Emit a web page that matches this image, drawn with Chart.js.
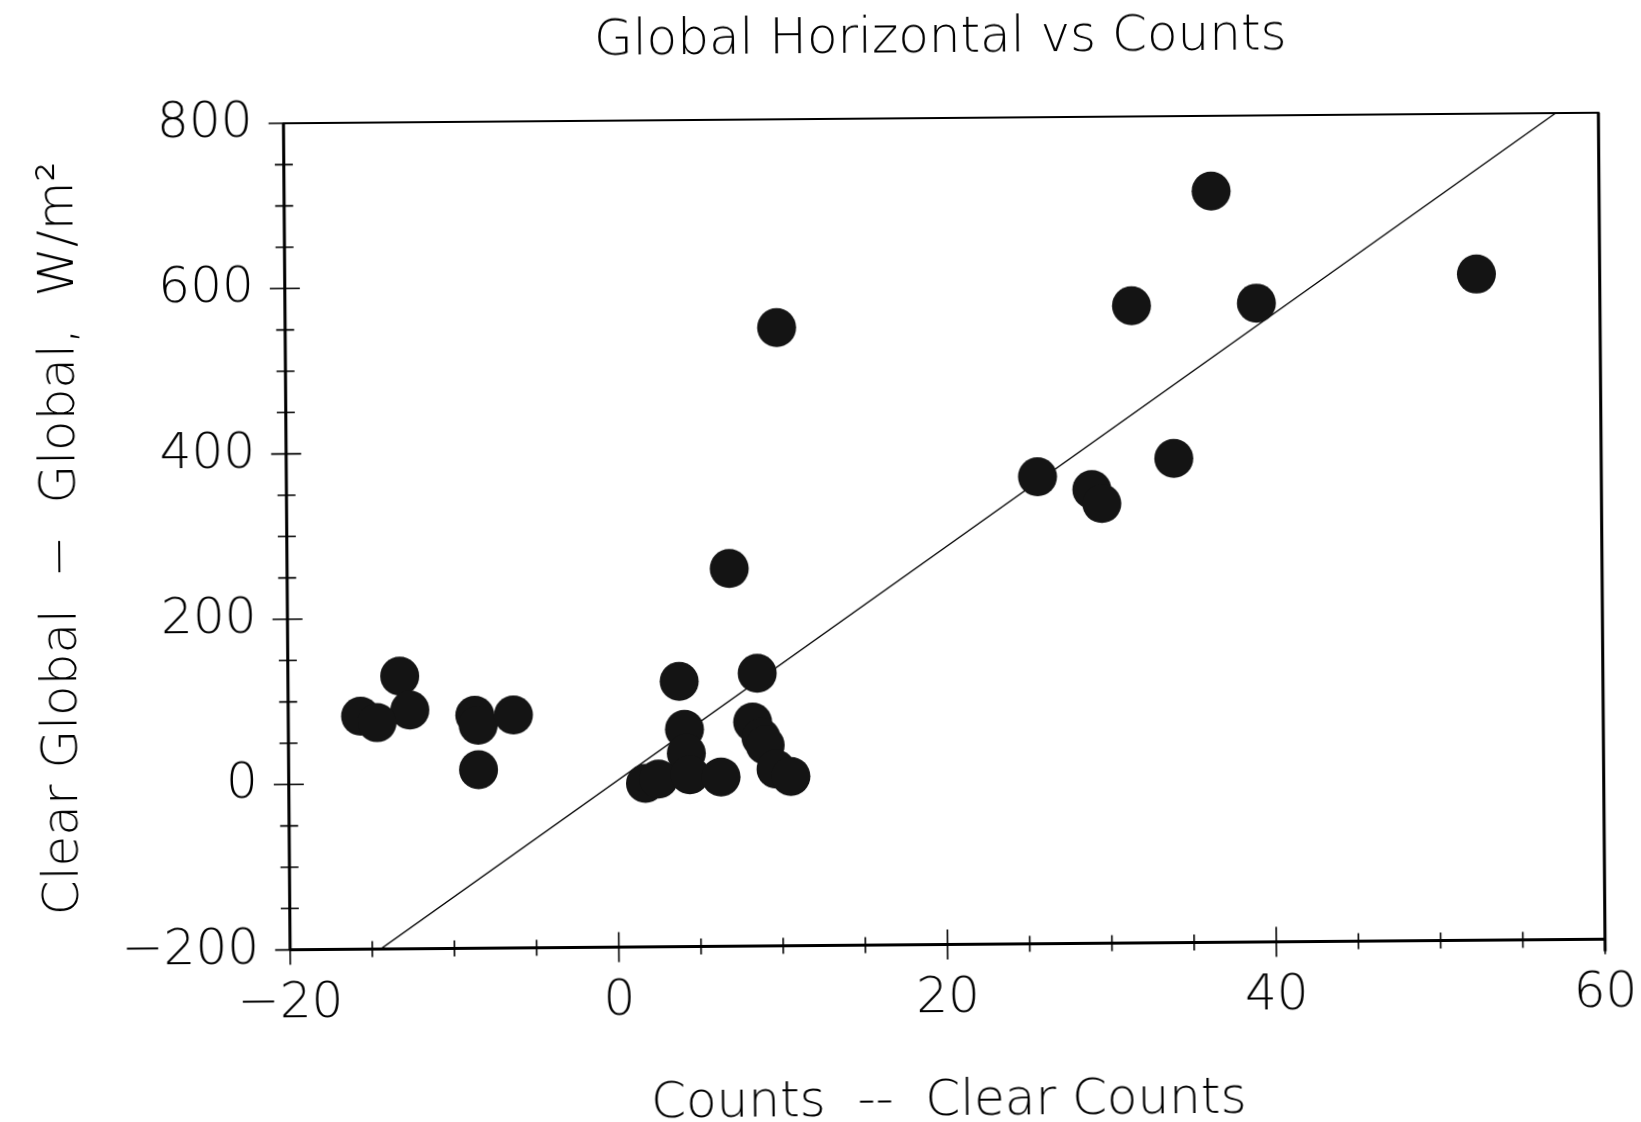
<!DOCTYPE html>
<html>
<head>
<meta charset="utf-8">
<title>Global Horizontal vs Counts</title>
<script src="https://cdn.jsdelivr.net/npm/chart.js@4/dist/chart.umd.min.js"></script>
<style>
  html, body { margin: 0; padding: 0; background: #fff; overflow: hidden; }
  #wrap { width: 1641px; height: 1122px; }
  /* the plotted sheet sits slightly askew on the page */
  #c { transform-origin: 944.25px 531.3px; transform: rotate(-0.46deg); }
</style>
</head>
<body>
<div id="wrap"><canvas id="c" width="1641" height="1122"></canvas></div>
<script>
// Observations: count difference vs. clear-sky irradiance difference
const countsDiff = [36.4, 52.5, 31.5, 39.1, 9.9, 34.0, 25.7, 29.0, 29.6, 6.9,
                    3.8, 8.55, -13.2, -12.6, -15.6, -14.6, -8.65, -8.45, -6.3, -8.45,
                    1.7, 2.5, 4.1, 4.2, 4.4, 6.3, 8.25, 8.75, 9.0, 9.65, 10.55];
const globalDiff = [709, 606, 571, 573, 548, 386, 365, 349, 332, 257,
                    121, 130, 130, 89, 82, 74, 82, 70, 82, 16,
                    -2, 3, 63, 34, 8, 5, 71, 52, 43, 14, 5];

// Fitted line end points
const fitX = [-14.5, 57.4];
const fitY = [-200, 800];

// Axis ranges and labelled ticks
const xRange = [-20, 60];
const yRange = [-200, 800];
const xLabelled = [-20, 0, 20, 40, 60];
const yLabelled = [-200, 0, 200, 400, 600, 800];

const FONT = '"DejaVu Sans", "Liberation Sans", sans-serif';
const fmt = v => (v < 0 ? '\u2212' + Math.abs(v) : String(v));

const points = countsDiff.map((x, i) => ({ x, y: globalDiff[i] }));
const fitLine = fitX.map((x, i) => ({ x, y: fitY[i] }));

// Boxed frame with ticks that cross the axis lines
const frameTicks = {
  id: 'frameTicks',
  afterDatasetsDraw(chart) {
    const { ctx, chartArea: a, scales: { x, y } } = chart;
    ctx.save();
    ctx.strokeStyle = '#000';
    ctx.lineWidth = 2;
    ctx.strokeRect(a.left, a.top, a.right - a.left, a.bottom - a.top);
    ctx.lineWidth = 3;
    ctx.beginPath();
    ctx.moveTo(a.left, a.top);
    ctx.lineTo(a.left, a.bottom);
    ctx.moveTo(a.left, a.bottom);
    ctx.lineTo(a.right, a.bottom);
    ctx.moveTo(a.right, a.top);
    ctx.lineTo(a.right, a.bottom + 12);
    ctx.stroke();
    ctx.lineWidth = 1.6;
    ctx.beginPath();
    x.ticks.forEach(t => {
      const px = x.getPixelForValue(t.value);
      const major = xLabelled.includes(t.value);
      const h = major ? 15 : 8;
      ctx.moveTo(px, a.bottom - h);
      ctx.lineTo(px, a.bottom + h);
    });
    y.ticks.forEach(t => {
      const py = y.getPixelForValue(t.value);
      const major = yLabelled.includes(t.value);
      const h = major ? 15 : 9;
      ctx.moveTo(a.left - h, py);
      ctx.lineTo(a.left + h, py);
    });
    ctx.stroke();
    ctx.restore();
  }
};

new Chart(document.getElementById('c'), {
  type: 'scatter',
  data: {
    datasets: [
      {
        label: 'Observations',
        data: points,
        order: 0,
        pointRadius: 19.5,
        pointHoverRadius: 19.5,
        backgroundColor: '#141414',
        borderColor: '#141414',
        borderWidth: 0
      },
      {
        type: 'line',
        label: 'Fit',
        data: fitLine,
        order: 1,
        borderColor: '#000',
        borderWidth: 1.3,
        pointRadius: 0,
        fill: false,
        tension: 0
      }
    ]
  },
  options: {
    responsive: false,
    animation: false,
    events: [],
    layout: { padding: 0 },
    plugins: {
      legend: { display: false },
      tooltip: { enabled: false },
      title: {
        display: true,
        fullSize: false,
        text: 'Global Horizontal vs Counts',
        color: '#000',
        font: { family: FONT, size: 50, weight: '200', lineHeight: 1.2 },
        padding: { top: 9.5, bottom: 48.5 }
      }
    },
    scales: {
      x: {
        type: 'linear',
        min: xRange[0],
        max: xRange[1],
        afterFit(s) { s.height = 177.4; s.paddingLeft = 0; s.paddingRight = 39.25; },
        grid: { display: false, drawTicks: false },
        border: { display: false },
        ticks: {
          stepSize: 5,
          autoSkip: false,
          maxRotation: 0,
          padding: 24,
          color: '#000',
          font: { family: FONT, size: 50, weight: '200' },
          callback: v => (xLabelled.includes(v) ? fmt(v) : '')
        },
        title: {
          display: true,
          text: 'Counts  --  Clear Counts',
          color: '#000',
          font: { family: FONT, size: 50, weight: '200', lineHeight: 0.78 },
          padding: { top: 0, bottom: 0 }
        }
      },
      y: {
        type: 'linear',
        min: yRange[0],
        max: yRange[1],
        afterFit(s) { s.width = 286.8; },
        grid: { display: false, drawTicks: false },
        border: { display: false },
        ticks: {
          stepSize: 50,
          autoSkip: false,
          padding: 31,
          color: '#000',
          font: { family: FONT, size: 50, weight: '200' },
          callback: v => (yLabelled.includes(v) ? fmt(v) : '')
        },
        title: {
          display: true,
          text: 'Clear Global  \u2212  Global,  W/m\u00B2',
          color: '#000',
          font: { family: FONT, size: 50, weight: '200', lineHeight: 1.2 },
          padding: { top: 32, bottom: 0 }
        }
      }
    }
  },
  plugins: [frameTicks]
});
</script>
</body>
</html>
